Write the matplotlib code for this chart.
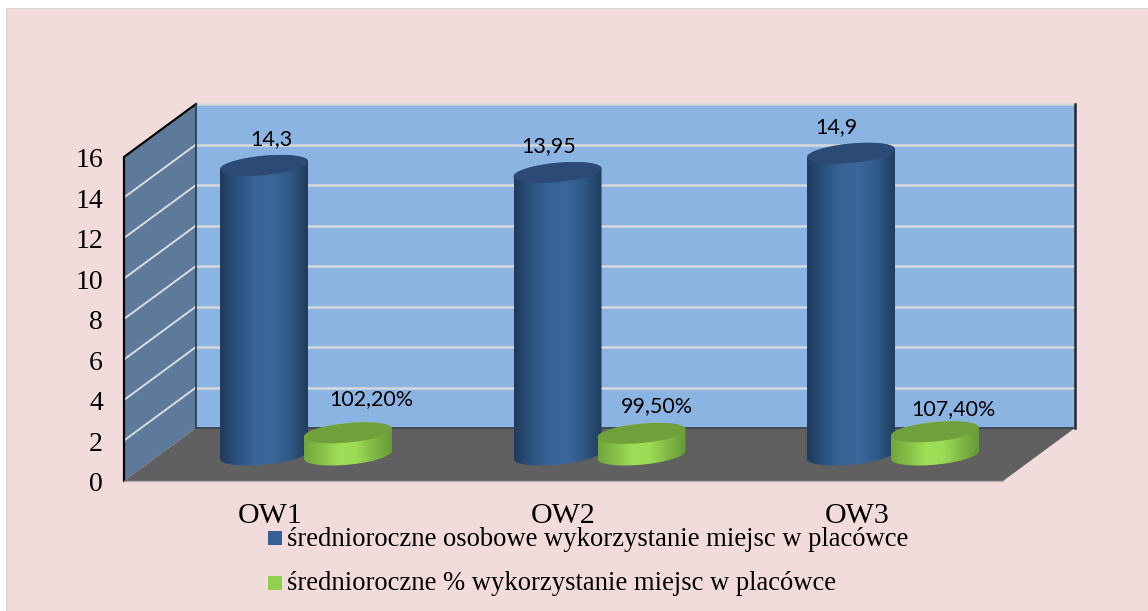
import numpy as np
import matplotlib
matplotlib.use('Agg')
import matplotlib.pyplot as plt
from matplotlib.colors import LinearSegmentedColormap
from matplotlib.patches import Polygon, Rectangle

groups = ['OW1', 'OW2', 'OW3']
osobowe = [14.3, 13.95, 14.9]
procent = [1.022, 0.995, 1.074]
osobowe_labels = ['14,3', '13,95', '14,9']
procent_labels = ['102,20%', '99,50%', '107,40%']
yticks = [0, 2, 4, 6, 8, 10, 12, 14, 16]
legend_labels = ['średnioroczne osobowe wykorzystanie miejsc w placówce',
                 'średnioroczne % wykorzystanie miejsc w placówce']

W, H = 1148, 611
XS = 293.5   # px per group
YS = 20.25   # px per value unit
X0 = 306.0   # px of first group, mid depth
Y0 = 428.0   # px of value 0 on the back wall

fig = plt.figure(figsize=(W / 100, H / 100), dpi=100, facecolor='white')
ax = fig.add_axes([0, 0, 1, 1])
ax.set_xlim(-X0 / XS, (W - X0) / XS)
ax.set_ylim((Y0 - H) / YS, Y0 / YS)
ax.axis('off')

PX = 1 / XS
PY = 1 / YS
ymax = 16
n = len(groups)
# wall edges, in group units
back_l, back_r = (196 - X0) * PX, (1075 - X0) * PX
dx, dy = 72 * PX, 53 * PY
mid = 27 * PY  # drop of the bar plane below the back wall

# hand placed data labels, the original chart had them dragged around
blue_nudge = [(7, 0), (-9, 0), (-15, 0)]
green_nudge = [(23, 25), (15, 19), (18, 14)]

blue_cm = LinearSegmentedColormap.from_list('b', ['#1f3a5c', '#2c5380', '#3a6498', '#3b6699', '#2f5885', '#203c5e'])
green_cm = LinearSegmentedColormap.from_list('g', ['#6fa83a', '#86c048', '#9fdf58', '#9bdb55', '#80b844', '#659a36'])


def ellipse(cx, cy, t, b=9.7):
    # slightly tilted disc as seen from the chart's 3d camera
    a = 44 * PX
    s = 4.0 * PY
    return cx + a * np.cos(t), cy + b * PY * np.sin(t) + s * np.cos(t)


def cylinder(cx, v, cm, topcolor, z, lift=0):
    base = -mid
    top = base + v + lift * PY
    t_low = np.linspace(np.pi, 2 * np.pi, 50)
    t_up = np.linspace(0, np.pi, 50)
    xb, yb = ellipse(cx, base, t_low)
    xt, yt = ellipse(cx, top, t_up)
    verts = np.column_stack([np.r_[xb, xt], np.r_[yb, yt]])
    body = Polygon(verts, closed=True, fc='none', ec='none', zorder=z)
    ax.add_patch(body)
    grad = np.linspace(0, 1, 256).reshape(1, -1)
    im = ax.imshow(grad, cmap=cm, aspect='auto', zorder=z,
                   extent=[cx - 44 * PX, cx + 44 * PX, base - 11 * PY, top + 11 * PY])
    im.set_clip_path(body)
    tt = np.linspace(0, 2 * np.pi, 100)
    xe, ye = ellipse(cx, top, tt)
    ax.fill(xe, ye, color=topcolor, lw=0, zorder=z + 0.1)


# outer pink panel with its thin grey left/top rim
ax.add_patch(Rectangle((6 * PX - X0 * PX, (Y0 - H) / YS), (W - 6) * PX, (H - 8) * PY,
                       fc='#d9dcd8', ec='none', zorder=0))
ax.add_patch(Rectangle((8 * PX - X0 * PX, (Y0 - H) / YS), (W - 8) * PX, (H - 9) * PY,
                       fc='#f2dcdb', ec='none', zorder=0.1))

# back wall, side wall, floor
ax.add_patch(Rectangle((back_l, 0), back_r - back_l, ymax, fc='#8cb4e2', ec='none', zorder=1))
ax.add_patch(Polygon([(back_l, 0), (back_l, ymax), (back_l - dx, ymax - dy), (back_l - dx, -dy * 1.0)],
                     closed=True, fc='#5e7a9b', ec='none', zorder=1))
ax.add_patch(Polygon([(back_l, 0), (back_r, 0), (back_r - dx, -dy), (back_l - dx, -dy)],
                     closed=True, fc='#606060', ec='none', zorder=1.5))

# gridlines on both walls
for v in yticks[1:]:
    ax.plot([back_l, back_r], [v, v], color='#d5d8dc', lw=1.8, zorder=2, solid_capstyle='butt')
    ax.plot([back_l - dx, back_l], [v - dy, v], color='#d9dcdf', lw=1.4, zorder=2)

# dark edges
ax.plot([back_l - dx, back_l - dx, back_l], [-dy, ymax - dy, ymax], color='black', lw=1.6, zorder=3)
ax.plot([back_l, back_l], [0, ymax], color='#2a3644', lw=1.2, zorder=3)
ax.plot([back_r, back_r], [0, ymax], color='#22282e', lw=1.8, zorder=3)
ax.plot([back_l, back_r], [0, 0], color='#3a4450', lw=1.3, zorder=3)
ax.plot([back_l - dx, back_r - dx], [-dy, -dy], color='#b0b0b0', lw=1, zorder=3)

# bars
for i in range(n):
    cyl_blue = i - 42 * PX
    cyl_green = i + 42 * PX
    cylinder(cyl_blue, osobowe[i], blue_cm, '#2b4a75', 4)
    cylinder(cyl_green, procent[i], green_cm, '#70a03c', 5, lift=1.5)
    ax.text(cyl_blue + blue_nudge[i][0] * PX, -mid + osobowe[i] + (16.5 + blue_nudge[i][1]) * PY, osobowe_labels[i],
            family='Lato', fontsize=15.5, ha='center', va='bottom', zorder=6)
    ax.text(cyl_green + green_nudge[i][0] * PX, -mid + procent[i] + green_nudge[i][1] * PY, procent_labels[i],
            family='Lato', fontsize=15.5, ha='center', va='bottom', zorder=6)
    ax.text(i - dx / 2, -dy - 35 * PY, groups[i], family='Liberation Serif', fontsize=21.5,
            ha='center', va='center', zorder=6)

# y tick labels
for v in yticks:
    ax.text(back_l - dx - 21 * PX, v - dy - 3.5 * PY, str(v), family='Liberation Serif', fontsize=20,
            ha='right', va='center', zorder=6)

# legend
leg_colors = ['#355f96', '#92d14f']
leg_y = [538, 583]
for c, py, lab in zip(leg_colors, leg_y, legend_labels):
    vy = (Y0 - py) / YS
    ax.add_patch(Rectangle(((268 - X0) * PX, vy - 7 * PY), 14 * PX, 14 * PY, fc=c, ec='none', zorder=6))
    ax.text((287 - X0) * PX, vy - 1 * PY, lab, family='Liberation Serif', fontsize=19.2, ha='left', va='center', zorder=6)

fig.savefig('out.png', dpi=100, facecolor='white')
